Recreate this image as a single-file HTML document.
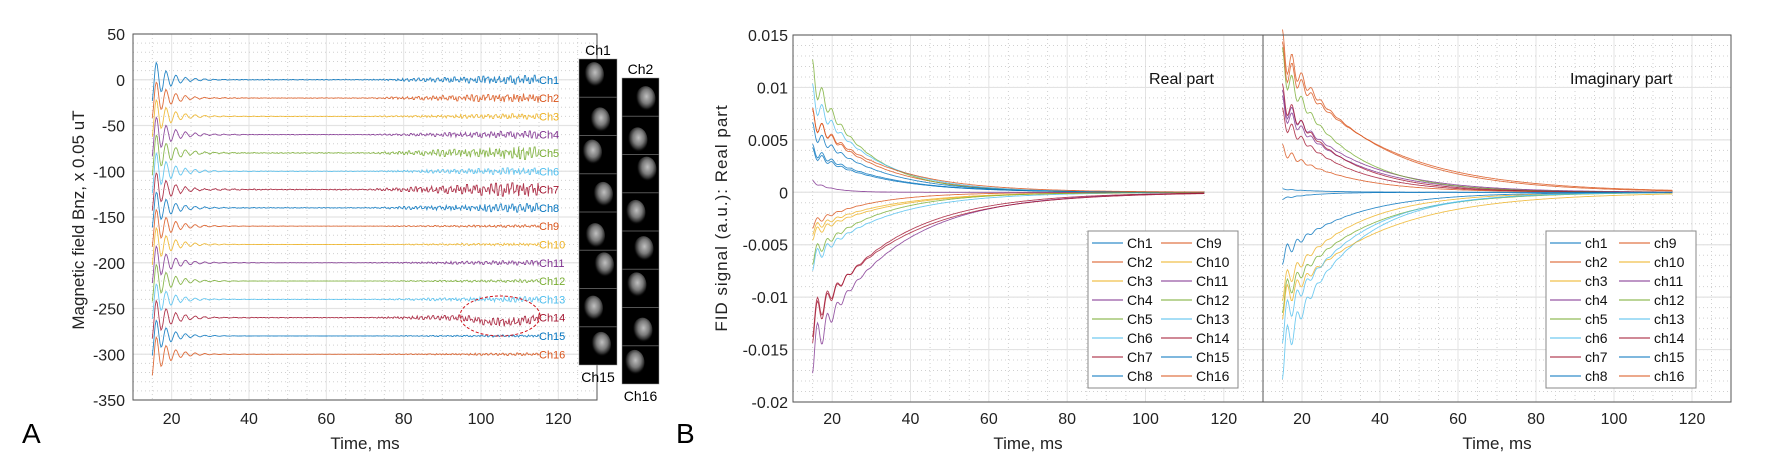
<!DOCTYPE html>
<html><head><meta charset="utf-8">
<style>
html,body{margin:0;padding:0;background:#fff;}
svg{display:block;font-family:"Liberation Sans",sans-serif;}
</style></head>
<body>
<svg id="fig" width="1772" height="470" viewBox="0 0 1772 470" xmlns="http://www.w3.org/2000/svg">
<defs>
<radialGradient id="blob" cx="55%" cy="40%" r="55%">
<stop offset="0" stop-color="#f0f0f0"/><stop offset="0.5" stop-color="#999"/><stop offset="0.8" stop-color="#333"/><stop offset="1" stop-color="#000" stop-opacity="0"/>
</radialGradient>
</defs>
<g id="panelA"></g>
<g id="panelB"></g>
<text x="22" y="443" font-size="28" fill="#000">A</text>
<text x="676" y="443" font-size="28" fill="#000">B</text>
</svg>
<script>
// ---------- Data ----------
const channelNames = ["Ch1","Ch2","Ch3","Ch4","Ch5","Ch6","Ch7","Ch8","Ch9","Ch10","Ch11","Ch12","Ch13","Ch14","Ch15","Ch16"];
const colors = ["#0072BD","#D95319","#EDB120","#7E2F8E","#77AC30","#4DBEEE","#A2142F","#0072BD","#D95319","#EDB120","#7E2F8E","#77AC30","#4DBEEE","#A2142F","#0072BD","#D95319"];
// Panel A
const offsetsA = [0,-20,-40,-60,-80,-100,-120,-140,-160,-180,-200,-220,-240,-260,-280,-300];
const ringAmpA = [24,22,22,23,23,23,22,21,22,22,22,22,21,22,22,24];
const ringTailA = [1,1.5,2,2.5,3,3,2.5,2,2,2,2,2,1.5,2.5,1,1];
const noiseAmpA = [5,5,3,4,7,4,8,5,1.5,1.5,2.5,1.5,3,5,1.2,1.5];
const noisePattern = [0.3,-0.8,0.9,-0.2,-0.6,1,-0.9,0.4,0.7,-1,0.2,-0.4,0.8,-0.7,0.1,0.95,-0.5,-0.3,0.6,-0.9,0.5,-0.1,0.85,-0.65,0.25,-0.95,0.4,0.7,-0.45,0.15,-0.75,0.9,-0.2,0.55,-0.85,0.35,-0.6,1,-0.3,0.05,-0.7,0.65,-0.15,0.8,-0.55,0.3,-1,0.45,0.2,-0.35];
const yTicksA = [50,0,-50,-100,-150,-200,-250,-300,-350];
const xTicks = [20,40,60,80,100,120];
// Panel B
const ampReal = [0.004,0.007,-0.0035,-0.015,0.011,-0.0065,-0.012,0.0058,-0.003,-0.004,0.001,-0.006,0.009,-0.0125,0.0037,0.0069];
const tauReal = [17,16,18,20,13,18,22,16,14,18,5,16,15,20,17,18];
const ampImag = [0.0003,0.0135,-0.009,0.008,-0.01,-0.0155,0.007,-0.006,0.004,-0.0105,0.0085,0.012,-0.0125,0.009,-0.0006,0.0125];
const tauImag = [10,22,17,17,19,16,15,17,16,24,18,15,17,15,8,24];
const yTicksB = [0.015,0.01,0.005,0,-0.005,-0.01,-0.015,-0.02];
const yTickLabelsB = ["0.015","0.01","0.005","0","-0.005","-0.01","-0.015","-0.02"];

const NS="http://www.w3.org/2000/svg";
function el(tag,attrs,parent){const e=document.createElementNS(NS,tag);for(const k in attrs)e.setAttribute(k,attrs[k]);parent.appendChild(e);return e;}

// ---------- Panel A ----------
const A=document.getElementById('panelA');
const aL=133,aR=597,aT=34,aB=400;
const xA=t=>aL+(t-10)*(aR-aL)/120;
const yA=v=>aT+(50-v)*(aB-aT)/400;
function grid(g,L,R,T,B,xf,yf,xmin,xmax,xminor,ymajor,yminor){
  for(let t=xmin;t<=xmax+1e-9;t+=xminor){const x=xf(t);const major=Math.abs((t/20)-Math.round(t/20))<1e-6;
    const ln=el('line',{x1:x,x2:x,y1:T,y2:B,stroke:major?'#e3e3e3':'#d0d0d0','stroke-width':1,'stroke-dasharray':major?'':'1,3'},g);
    }
  yminor.forEach(v=>{const y=yf(v);const ln=el('line',{x1:L,x2:R,y1:y,y2:y,stroke:'#d0d0d0','stroke-width':1,'stroke-dasharray':'1,3'},g);
    });
  ymajor.forEach(v=>{const y=yf(v);const ln=el('line',{x1:L,x2:R,y1:y,y2:y,stroke:'#e3e3e3','stroke-width':1.2},g);
    });
}
const yMinorA=[];for(let v=-350;v<=50;v+=10)yMinorA.push(v);
grid(A,aL,aR,aT,aB,xA,yA,15,125,5,yTicksA,yMinorA);
// traces
for(let c=0;c<16;c++){
  let d='';
  for(let i=0;i<=400;i++){
    const t=15+i*0.25;const s=t-15;
    let v=offsetsA[c]+ringAmpA[c]*Math.exp(-s/3.6)*Math.sin(2*Math.PI*s/2.5-1.2)
      +ringTailA[c]*Math.exp(-s/9)*Math.sin(2*Math.PI*s/2.5-1.2);
    const env=t<70?0.06:Math.min(1,0.06+(t-70)/42);
    v+=noiseAmpA[c]*env*noisePattern[(Math.floor(i*0.6)+c*7)%noisePattern.length];
    if(c===13&&t>95)v+=-5*Math.sin(Math.PI*(t-95)/20);
    d+=(i?'L':'M')+xA(t).toFixed(1)+','+yA(v).toFixed(1);
  }
  const p=el('path',{d:d,fill:'none',stroke:colors[c],'stroke-width':0.9,opacity:0.85},A);
  
  const lb=el('text',{x:539,y:yA(offsetsA[c])+4,'font-size':11,fill:colors[c]},A);lb.textContent=channelNames[c];
  
}
// ellipse
const ell=el('ellipse',{cx:500,cy:316,rx:40,ry:20,fill:'none',stroke:'#d0121b','stroke-width':1,'stroke-dasharray':'3,2'},A);

// axes
function axes(g,L,R,T,B,name){const r=el('path',{d:`M${L},${T}H${R}V${B}H${L}Z`,fill:'none',stroke:'#555','stroke-width':1},g);
  }
axes(A,aL,aR,aT,aB,'axes-box-a');
yTicksA.forEach(v=>{const t=el('text',{x:aL-8,y:yA(v)+6,'font-size':16,'text-anchor':'end',fill:'#222'},A);t.textContent=v;
  });
xTicks.forEach(v=>{const t=el('text',{x:xA(v),y:424,'font-size':16,'text-anchor':'middle',fill:'#222'},A);t.textContent=v;
  });
{const t=el('text',{x:xA(70),y:449,'font-size':17,'text-anchor':'middle',fill:'#222'},A);t.textContent='Time, ms';
 
 const y=el('text',{x:0,y:0,'font-size':17,'text-anchor':'middle',fill:'#222',transform:'translate(84,220) rotate(-90)'},A);y.textContent='Magnetic field Bnz, x 0.05 uT';
 }
// image strips
function strip(x,y,w,h,n,top,bot,name,seed){
  const g=el('g',{},A);
  el('rect',{x:x,y:y,width:w,height:h,fill:'#000',stroke:'#999','stroke-width':0.5},g);
  const ch=h/n;
  for(let i=0;i<n;i++){
    if(i>0)el('line',{x1:x,x2:x+w,y1:y+i*ch,y2:y+i*ch,stroke:'#555','stroke-width':1},g);
    const ox=[-4,2,-6,5,-3,6,-5,3][(i+seed)%8], oy=[-3,4,-2,2,5,-4,1,-1][(i+seed)%8];
    el('ellipse',{cx:x+w/2+ox,cy:y+i*ch+ch/2+oy,rx:10,ry:13,fill:'url(#blob)',opacity:0.8},g);
  }
  const t1=el('text',{x:x+w/2,y:y-4,'font-size':14,'text-anchor':'middle',fill:'#000'},g);t1.textContent=top;
  const t2=el('text',{x:x+w/2,y:y+h+17,'font-size':14,'text-anchor':'middle',fill:'#000'},g);t2.textContent=bot;
}
strip(579,59,38,306,8,'Ch1','Ch15','image-strip-ch1-ch15',0);
strip(622,78,37,306,8,'Ch2','Ch16','image-strip-ch2-ch16',3);

// ---------- Panel B ----------
const B=document.getElementById('panelB');
const bT=35,bB=402;
const yB=v=>bT+(0.015-v)*(bB-bT)/0.035;
const yMinorB=[];for(let k=-20;k<=15;k++)yMinorB.push(k/1000);
function panelB(L,R,amps,taus,labels,title,titleX,legendX,name,drawYLabels){
  const g=el('g',{},B);
  const xf=t=>L+(t-10)*(R-L)/120;
  grid(g,L,R,bT,bB,xf,yB,15,125,5,yTicksB,yMinorB);
  for(let c=0;c<16;c++){
    let d='';
    for(let i=0;i<=400;i++){const t=15+i*0.25,s=t-15;
      const v=amps[c]*Math.exp(-s/taus[c])*(1+0.15*Math.exp(-s/5)*Math.sin(2*Math.PI*s/2.5+1.6));
      d+=(i?'L':'M')+xf(t).toFixed(1)+','+yB(v).toFixed(1);}
    const p=el('path',{d:d,fill:'none',stroke:colors[c],'stroke-width':0.9,opacity:0.8},g);
    
  }
  axes(g,L,R,bT,bB,'axes-box');
  xTicks.forEach(v=>{const t=el('text',{x:xf(v),y:424,'font-size':16,'text-anchor':'middle',fill:'#222'},g);t.textContent=v;
    });
  const xt=el('text',{x:xf(70),y:449,'font-size':17,'text-anchor':'middle',fill:'#222'},g);xt.textContent='Time, ms';
  
  if(drawYLabels){yTicksB.forEach((v,i)=>{const t=el('text',{x:L-5,y:yB(v)+6,'font-size':16,'text-anchor':'end',fill:'#222'},g);t.textContent=yTickLabelsB[i];
    });}
  const tt=el('text',{x:titleX,y:84,'font-size':16,fill:'#111'},g);tt.textContent=title;
  
  // legend
  const lg=el('g',{},g);
  el('rect',{x:legendX,y:231,width:150,height:157,fill:'#fff',stroke:'#888','stroke-width':1},lg);
  for(let c=0;c<16;c++){const col=c<8?0:1,row=c%8;const lx=legendX+4+col*69,ly=243+row*19;
    const e=el('g',{},lg);
    el('line',{x1:lx,x2:lx+31,y1:ly,y2:ly,stroke:colors[c],'stroke-width':1.2,opacity:0.8},e);
    const t=el('text',{x:lx+35,y:ly+5,'font-size':14,fill:'#111'},e);t.textContent=labels[c];}
}
panelB(793,1263,ampReal,tauReal,channelNames,'Real part',1149,1088,'plot-real-part',true);
panelB(1263,1731,ampImag,tauImag,channelNames.map(s=>s.toLowerCase()),'Imaginary part',1570,1546,'plot-imaginary-part',false);
{const y=el('text',{x:0,y:0,'font-size':17,'text-anchor':'middle',fill:'#222',transform:'translate(727,218) rotate(-90)','letter-spacing':'1'},B);
 y.textContent='FID signal (a.u.): Real part';}
</script>
</body></html>
